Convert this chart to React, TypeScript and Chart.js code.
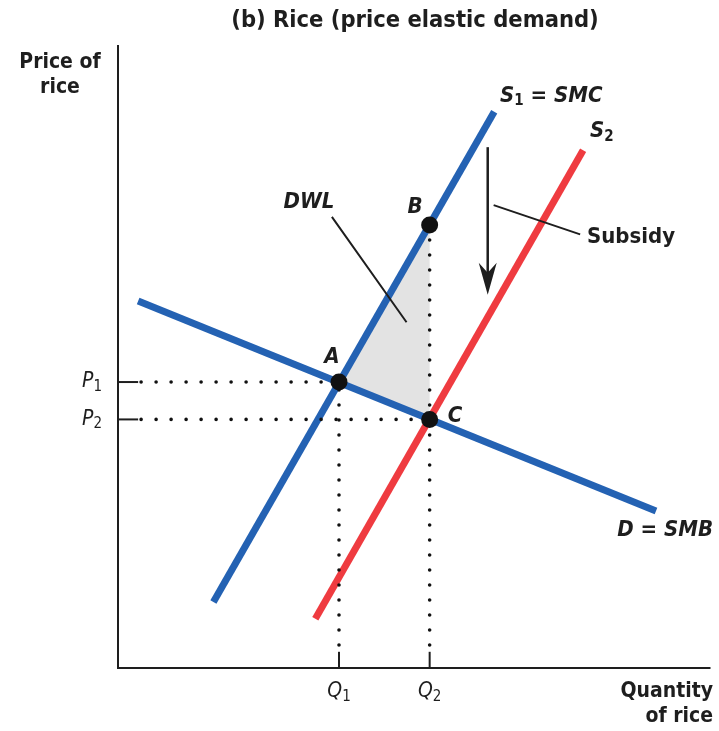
import React, { useEffect, useRef } from "react";
import { Chart, registerables } from "chart.js";

Chart.register(...registerables);

// ---- data (chart units: x 0..100 quantity, y 0..100 price) ----
const Q_VALUES = [37.3, 52.6]; // Q1, Q2
const P_VALUES = [45.9, 39.9]; // P1, P2
const DEMAND_X = [3.4, 90.8];
const DEMAND_Y = [58.9, 25.2];
const S1_X = [16.1, 63.5];
const S1_Y = [10.6, 89.3];
const S2_X = [33.3, 78.5];
const S2_Y = [7.9, 83.1];
const POINT_LABELS = ["A", "B", "C"];
const POINT_X = [37.3, 52.6, 52.6];
const POINT_Y = [45.9, 71.1, 39.9];

const BLUE = "#2462b3";
const RED = "#ef3b40";
const INK = "#1e1e1e";
const FONT = '"Liberation Sans Narrow", "DejaVu Sans Condensed", "Roboto Condensed", Arial, sans-serif';

const pts = (xs: number[], ys: number[]) => xs.map((x, i) => ({ x, y: ys[i] }));

export default function App() {
  const ref = useRef<HTMLCanvasElement | null>(null);

  useEffect(() => {
    if (!ref.current) return;
    const [Q1, Q2] = Q_VALUES;
    const [P1, P2] = P_VALUES;
    const A = { x: POINT_X[0], y: POINT_Y[0] };
    const B = { x: POINT_X[1], y: POINT_Y[1] };
    const C = { x: POINT_X[2], y: POINT_Y[2] };

    const dotted = (data: any[]) => ({
      data,
      showLine: true,
      borderColor: "#111",
      borderWidth: 3.6,
      borderDash: [0, 15],
      borderCapStyle: "round",
      pointRadius: 0,
      clip: false,
      order: 3,
    });
    const solid = (data: any[], color: string, width: number, order: number) => ({
      data,
      showLine: true,
      borderColor: color,
      borderWidth: width,
      pointRadius: 0,
      clip: false,
      order,
    });

    const textPlugin = {
      id: "annot",
      afterDatasetsDraw(chart: any) {
        const ctx = chart.ctx as CanvasRenderingContext2D;
        const xs = chart.scales.x;
        const ys = chart.scales.y;
        const px = (v: number) => xs.getPixelForValue(v);
        const py = (v: number) => ys.getPixelForValue(v);
        ctx.save();
        ctx.fillStyle = INK;
        ctx.strokeStyle = INK;

        const text = (t: string, x: number, y: number, font: string, align: CanvasTextAlign = "center") => {
          ctx.font = font;
          ctx.textAlign = align;
          ctx.textBaseline = "middle";
          ctx.fillText(t, x, y);
        };
        const sub = (m: string, s: string, x: number, y: number, font: string, sfont: string) => {
          ctx.font = font;
          const wm = ctx.measureText(m).width;
          ctx.font = sfont;
          const ws = ctx.measureText(s).width;
          const x0 = x - (wm + ws) / 2;
          ctx.textAlign = "left";
          ctx.textBaseline = "middle";
          ctx.font = font;
          ctx.fillText(m, x0, y);
          ctx.font = sfont;
          ctx.fillText(s, x0 + wm, y + 5);
        };

        // title and axis titles
        text("(b) Rice (price elastic demand)", 415, 21, `bold 23.5px ${FONT}`);
        text("Price of", 60, 63, `bold 21px ${FONT}`);
        text("rice", 60, 88, `bold 21px ${FONT}`);
        text("Quantity", 713, 692, `bold 21px ${FONT}`, "right");
        text("of rice", 713, 717, `bold 21px ${FONT}`, "right");

        // tick labels
        sub("P", "1", 92, py(P1), `italic 21px ${FONT}`, `15px ${FONT}`);
        sub("P", "2", 92, py(P2), `italic 21px ${FONT}`, `15px ${FONT}`);
        sub("Q", "1", px(Q1), 692, `italic 21px ${FONT}`, `15px ${FONT}`);
        sub("Q", "2", px(Q2), 692, `italic 21px ${FONT}`, `15px ${FONT}`);

        // curve labels
        ctx.font = `bold italic 22px ${FONT}`;
        ctx.textAlign = "left";
        ctx.textBaseline = "middle";
        ctx.fillText("S", 500, 96);
        let w = ctx.measureText("S").width;
        ctx.font = `bold 15px ${FONT}`;
        ctx.fillText("1", 500 + w, 101);
        const w2 = ctx.measureText("1").width;
        ctx.font = `bold italic 22px ${FONT}`;
        ctx.fillText(" = SMC", 500 + w + w2, 96);

        ctx.fillText("S", 590, 131);
        w = ctx.measureText("S").width;
        ctx.font = `bold 15px ${FONT}`;
        ctx.fillText("2", 590 + w, 137);

        text("D = SMB", 713, 530, `bold italic 22px ${FONT}`, "right");
        text("DWL", 309, 202, `bold italic 22px ${FONT}`);
        text("Subsidy", 587, 237, `bold 22px ${FONT}`, "left");
        text(POINT_LABELS[0], 332, 357, `bold italic 22px ${FONT}`);
        text(POINT_LABELS[1], 415, 207, `bold italic 22px ${FONT}`);
        text(POINT_LABELS[2], 455, 416, `bold italic 22px ${FONT}`);

        // leader lines
        ctx.lineWidth = 2;
        ctx.beginPath();
        ctx.moveTo(px(36.1), py(72.4));
        ctx.lineTo(px(48.7), py(55.5));
        ctx.moveTo(px(63.4), py(74.3));
        ctx.lineTo(px(78.0), py(69.6));
        ctx.stroke();

        // subsidy arrow
        const ax = px(62.4);
        const top = py(83.6);
        const tip = py(59.9);
        ctx.lineWidth = 2.5;
        ctx.beginPath();
        ctx.moveTo(ax, top);
        ctx.lineTo(ax, tip - 8);
        ctx.stroke();
        ctx.beginPath();
        ctx.moveTo(ax, tip);
        ctx.lineTo(ax - 9, tip - 32);
        ctx.lineTo(ax, tip - 22);
        ctx.lineTo(ax + 9, tip - 32);
        ctx.closePath();
        ctx.fill();
        ctx.restore();
      },
    };

    const chart = new Chart(ref.current, {
      type: "scatter",
      data: {
        datasets: [
          // DWL triangle
          {
            data: [A, B, C, A],
            showLine: true,
            fill: "shape",
            backgroundColor: "#e3e3e3",
            borderWidth: 0,
            pointRadius: 0,
            order: 10,
          } as any,
          // axes
          solid([{ x: 0, y: 100 }, { x: 0, y: 0 }, { x: 100, y: 0 }], INK, 2, 9),
          // ticks
          solid([{ x: 0, y: P1 }, { x: 3.4, y: P1 }], INK, 2, 9),
          solid([{ x: 0, y: P2 }, { x: 3.4, y: P2 }], INK, 2, 9),
          solid([{ x: Q1, y: 0 }, { x: Q1, y: 2.6 }], INK, 2, 9),
          solid([{ x: Q2, y: 0 }, { x: Q2, y: 2.6 }], INK, 2, 9),
          // curves
          solid(pts(DEMAND_X, DEMAND_Y), BLUE, 7, 5),
          solid(pts(S1_X, S1_Y), BLUE, 7, 5),
          solid(pts(S2_X, S2_Y), RED, 7, 6),
          // dotted guides
          dotted([{ x: 3.9, y: P1 }, { x: Q1, y: P1 }]),
          dotted([{ x: 3.9, y: P2 }, { x: Q2, y: P2 }]),
          dotted([{ x: Q1, y: 3.7 }, { x: Q1, y: P1 }]),
          dotted([{ x: Q2, y: 3.7 }, { x: Q2, y: B.y }]),
          // equilibrium points
          {
            data: [A, B, C],
            pointRadius: 8.5,
            pointBackgroundColor: "#111",
            pointBorderWidth: 0,
            clip: false,
            order: 0,
          } as any,
        ] as any,
      },
      options: {
        animation: false,
        responsive: false,
        devicePixelRatio: 1,
        layout: { padding: { left: 118, right: 6, top: 45, bottom: 63 } },
        scales: {
          x: { type: "linear", min: 0, max: 100, display: false },
          y: { type: "linear", min: 0, max: 100, display: false },
        },
        plugins: { legend: { display: false }, tooltip: { enabled: false }, title: { display: false } },
        events: [],
      } as any,
      plugins: [textPlugin],
    });
    return () => chart.destroy();
  }, []);

  return (
    <div style={{ position: "absolute", left: 0, top: 0, width: 719, height: 731, background: "#fff" }}>
      <canvas ref={ref} width={719} height={731} />
    </div>
  );
}
